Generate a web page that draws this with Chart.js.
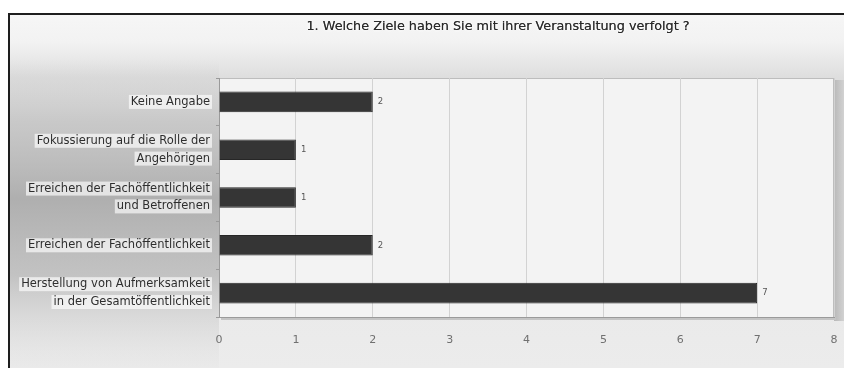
<!DOCTYPE html>
<html>
<head>
<meta charset="utf-8">
<script src="https://cdn.jsdelivr.net/npm/chart.js@4"></script>
<style>
  body { margin: 0; background: #fff; }
  canvas { display: block; }
</style>
</head>
<body>
<canvas id="barchart" width="844" height="368"></canvas>
<script>
const titleText = '1. Welche Ziele haben Sie mit ihrer Veranstaltung verfolgt ?';

const categories = [
  'Keine Angabe',
  ['Fokussierung auf die Rolle der', 'Angehörigen'],
  ['Erreichen der Fachöffentlichkeit', 'und Betroffenen'],
  'Erreichen der Fachöffentlichkeit',
  ['Herstellung von Aufmerksamkeit', 'in der Gesamtöffentlichkeit']
];

const valores = [2, 1, 1, 2, 7];

const xTicks = [0, 1, 2, 3, 4, 5, 6, 7, 8];

const fontFamily = '"DejaVu Sans", Verdana, sans-serif';
const labelSize = 11.5;
const labelLH = 1.55;

// backgrounds, frame, label glow and title
const framePlugin = {
  id: 'frame',
  beforeDraw(chart) {
    const ctx = chart.ctx;
    const a = chart.chartArea;
    const W = chart.width, H = chart.height;
    ctx.save();
    ctx.fillStyle = '#ffffff';
    ctx.fillRect(0, 0, W, H);

    let g = ctx.createLinearGradient(0, 14, 0, H);
    g.addColorStop(0, '#f6f6f6');
    g.addColorStop(0.08, '#f2f2f2');
    g.addColorStop(0.18, '#dedede');
    g.addColorStop(0.5, '#e6e6e6');
    g.addColorStop(1, '#ececec');
    ctx.fillStyle = g;
    ctx.fillRect(10, 14, W - 10, H - 14);

    // grey column behind the category labels
    g = ctx.createLinearGradient(0, 60, 0, H);
    g.addColorStop(0, 'rgba(200,200,200,0)');
    g.addColorStop(0.2, 'rgba(190,190,190,0.7)');
    g.addColorStop(0.45, 'rgba(175,175,175,1)');
    g.addColorStop(0.7, 'rgba(185,185,185,0.8)');
    g.addColorStop(1, 'rgba(225,225,225,0.2)');
    ctx.fillStyle = g;
    ctx.fillRect(10, 60, a.left - 10, H - 60);

    // shadow of the plot box
    g = ctx.createLinearGradient(a.right, 0, W, 0);
    g.addColorStop(0, '#b8b8b8');
    g.addColorStop(1, '#d2d2d2');
    ctx.fillStyle = g;
    ctx.fillRect(a.right, a.top + 2, W - a.right, a.bottom - a.top + 2);
    ctx.fillStyle = '#c4c4c4';
    ctx.fillRect(a.left + 2, a.bottom, a.right - a.left, 3);

    // plot area
    ctx.fillStyle = '#f3f3f3';
    ctx.fillRect(a.left, a.top, a.right - a.left, a.bottom - a.top);
    ctx.strokeStyle = '#bdbdbd';
    ctx.lineWidth = 1;
    ctx.strokeRect(a.left + 0.5, a.top + 0.5, a.right - a.left - 1, a.bottom - a.top);

    // outer frame
    ctx.fillStyle = '#1e1e1e';
    ctx.fillRect(8, 13, W - 8, 2);
    ctx.fillRect(8, 13, 2, H - 13);

    // white glow behind each label line
    const ys = chart.scales.y;
    const lh = labelSize * labelLH;
    const xr = a.left - 9;
    ctx.font = labelSize + 'px ' + fontFamily;
    ctx.fillStyle = 'rgba(255,255,255,0.65)';
    categories.forEach((lab, i) => {
      const lines = Array.isArray(lab) ? lab : [lab];
      const cy = ys.getPixelForTick(i);
      lines.forEach((line, j) => {
        const y = cy - (lines.length - 1) * lh / 2 + j * lh;
        const w = ctx.measureText(line).width;
        ctx.fillRect(xr - w - 2, y - 7, w + 4, 14);
      });
    });

    // title with white glow
    ctx.font = '12.8px ' + fontFamily;
    ctx.textAlign = 'center';
    ctx.textBaseline = 'middle';
    ctx.shadowColor = '#ffffff';
    ctx.shadowBlur = 4;
    ctx.fillStyle = '#2a2a2a';
    ctx.fillText(titleText, 498, 27);
    ctx.fillText(titleText, 498, 27);
    ctx.restore();
  },
  afterDatasetsDraw(chart) {
    const ctx = chart.ctx;
    const meta = chart.getDatasetMeta(0);
    ctx.save();
    ctx.font = '8.5px ' + fontFamily;
    ctx.fillStyle = '#555';
    ctx.textAlign = 'left';
    ctx.textBaseline = 'middle';
    meta.data.forEach((bar, i) => {
      ctx.fillText(String(valores[i]), bar.x + 5, bar.y);
    });
    ctx.restore();
  }
};

const data = {
  labels: categories,
  datasets: [{
    data: valores,
    backgroundColor: '#353535',
    borderColor: '#262626',
    borderWidth: 1,
    categoryPercentage: 1,
    barPercentage: 0.43
  }]
};

const config = {
  type: 'bar',
  data: data,
  plugins: [framePlugin],
  options: {
    indexAxis: 'y',
    responsive: false,
    animation: false,
    devicePixelRatio: 1,
    layout: { padding: { left: 10, top: 78, right: 10, bottom: 0 } },
    plugins: {
      legend: { display: false },
      title: { display: false },
      tooltip: { enabled: false }
    },
    scales: {
      x: {
        min: 0,
        max: 8,
        afterBuildTicks: s => { s.ticks = xTicks.map(v => ({ value: v })); },
        afterFit: s => { s.height = 51; s.paddingLeft = 0; s.paddingRight = 0; },
        grid: { color: '#d2d2d2', tickLength: 0, drawTicks: false },
        border: { color: '#9a9a9a', width: 1 },
        ticks: {
          color: '#707070',
          padding: 17,
          font: { family: fontFamily, size: 11 }
        }
      },
      y: {
        afterFit: s => { s.width = 209; },
        grid: { display: true, drawOnChartArea: false, tickLength: 3, color: '#9a9a9a' },
        border: { color: '#9a9a9a', width: 1 },
        ticks: {
          color: '#2e2e2e',
          padding: 6,
          font: { family: fontFamily, size: labelSize, lineHeight: labelLH }
        }
      }
    }
  }
};

let barchart = new Chart(document.getElementById('barchart'), config);
</script>
</body>
</html>
